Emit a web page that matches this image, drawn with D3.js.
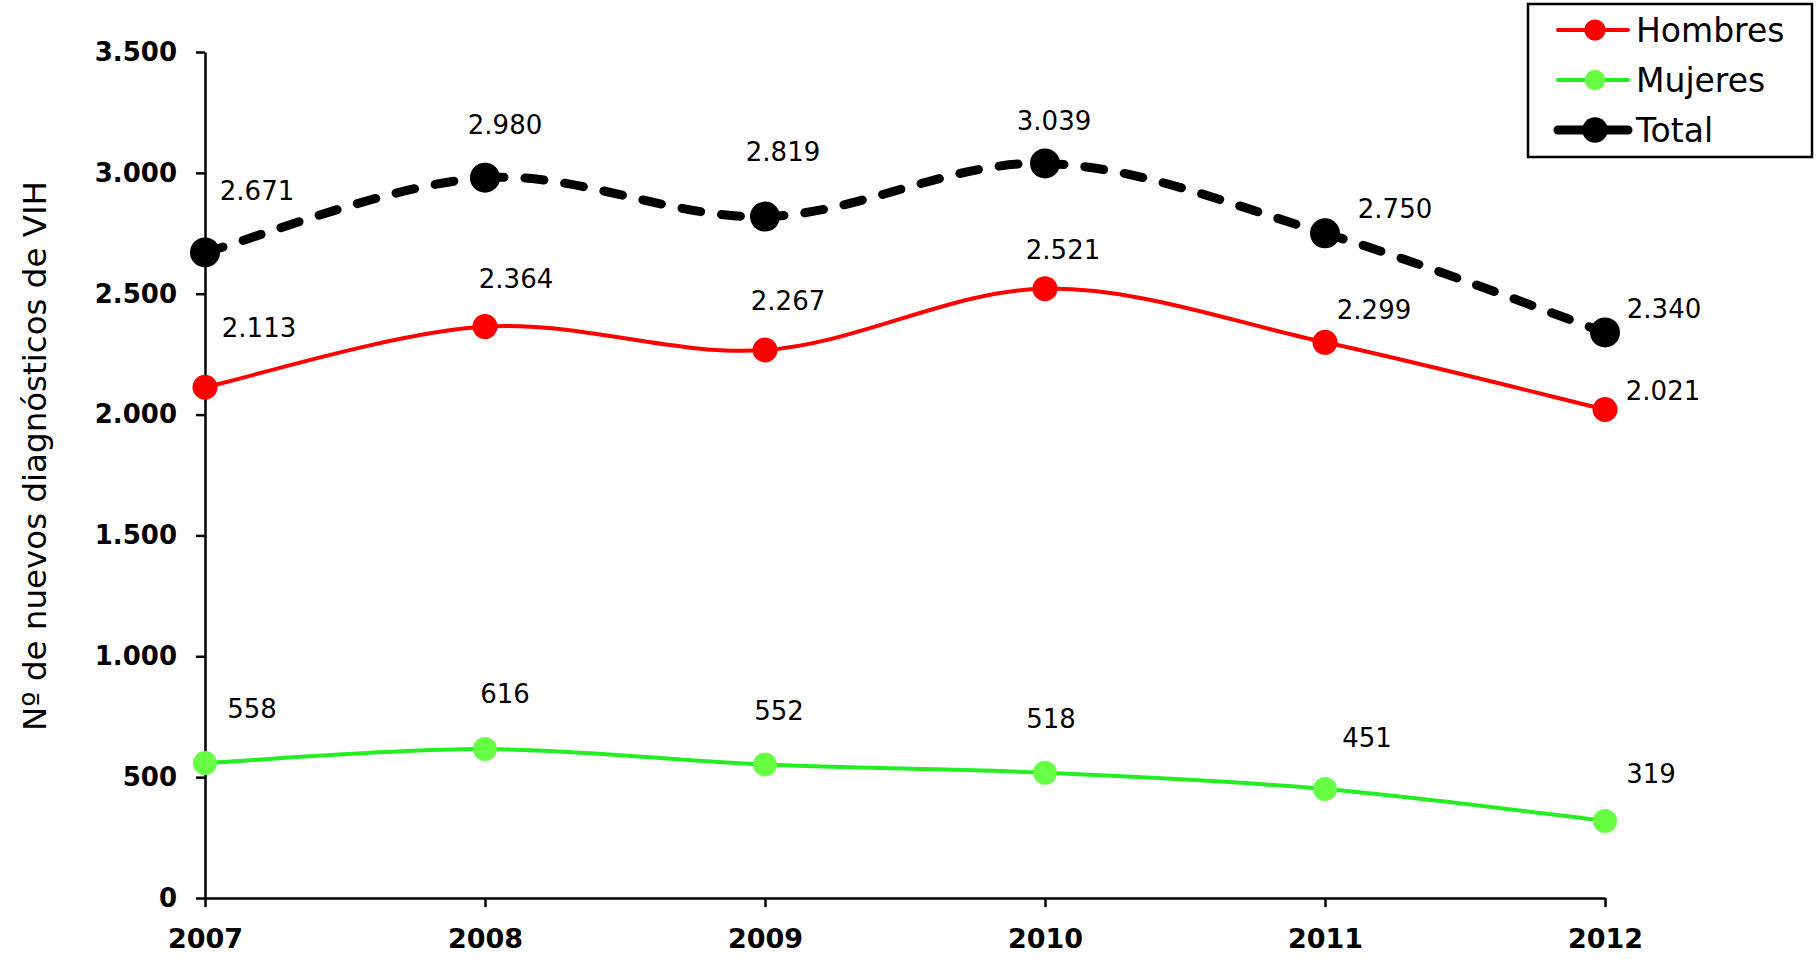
<!DOCTYPE html>
<html>
<head>
<meta charset="utf-8">
<script src="https://cdn.jsdelivr.net/npm/d3@7"></script>
<style>
  html, body { margin: 0; padding: 0; background: #fff; }
  svg { display: block; font-family: "DejaVu Sans", Verdana, sans-serif; }
</style>
</head>
<body>
<svg id="chart" width="1816" height="959"></svg>
<script>
// data
var years = ["2007", "2008", "2009", "2010", "2011", "2012"];
var hombres = [2113, 2364, 2267, 2521, 2299, 2021];
var mujeres = [558, 616, 552, 518, 451, 319];
var total = [2671, 2980, 2819, 3039, 2750, 2340];
var yTicks = [0, 500, 1000, 1500, 2000, 2500, 3000, 3500];
var seriesNames = ["Hombres", "Mujeres", "Total"];

// label nudges (layout only), label centre relative to the point
var nudgeHombres = [[54, -60], [31, -48], [23, -49], [18, -39], [49, -33], [58, -19]];
var nudgeMujeres = [[47, -54], [20, -55], [14, -54], [6, -54], [42, -51], [46, -47]];
var nudgeTotal = [[52, -62], [20, -53], [18, -65], [9, -43], [70, -25], [59, -24]];

var es = d3.formatLocale({decimal: ",", thousands: ".", grouping: [3], currency: ["", " €"]});
var fmt = es.format(",d");

var svg = d3.select("#chart");
var x = d3.scalePoint().domain(years).range([205, 1605]);
var y = d3.scaleLinear().domain([0, 3500]).range([898, 52]);

// axes
var gy = svg.append("g").attr("transform", "translate(205,0)")
    .call(d3.axisLeft(y).tickValues(yTicks).tickSize(9).tickSizeOuter(0).tickPadding(19).tickFormat(fmt));
gy.selectAll("text").attr("font-size", 26).attr("font-weight", "bold").attr("fill", "#000")
    .attr("font-family", "DejaVu Sans");
gy.selectAll("line, path").attr("stroke", "#000").attr("stroke-width", 2.5);

var gx = svg.append("g").attr("transform", "translate(0,898)")
    .call(d3.axisBottom(x).tickSize(9).tickSizeOuter(0));
gx.selectAll("text").attr("font-size", 27).attr("font-weight", "bold").attr("fill", "#000")
    .attr("font-family", "DejaVu Sans").attr("y", 50).attr("dy", 0);
gx.selectAll("line, path").attr("stroke", "#000").attr("stroke-width", 2.5);

// y title
svg.append("text")
    .attr("transform", "translate(46,456) rotate(-90)")
    .attr("text-anchor", "middle")
    .attr("font-size", 32.5)
    .attr("fill", "#000")
    .text("Nº de nuevos diagnósticos de VIH");

// smoothed segment i of a series (Catmull-Rom, like the spreadsheet smoothing)
function segment(vals, i) {
  var p = vals.map(function(v, k) { return [x(years[k]), y(v)]; });
  var p0 = p[Math.max(i - 1, 0)], p1 = p[i], p2 = p[i + 1], p3 = p[Math.min(i + 2, p.length - 1)];
  var path = d3.path();
  path.moveTo(p1[0], p1[1]);
  path.bezierCurveTo(
      p1[0] + (p2[0] - p0[0]) / 6, p1[1] + (p2[1] - p0[1]) / 6,
      p2[0] - (p3[0] - p1[0]) / 6, p2[1] - (p3[1] - p1[1]) / 6,
      p2[0], p2[1]);
  return path.toString();
}

var series = [
  {name: "Hombres", values: hombres, nudge: nudgeHombres, stroke: "#ff0000", marker: "#ff0000", width: 4, r: 12.5, dash: null},
  {name: "Mujeres", values: mujeres, nudge: nudgeMujeres, stroke: "#22ee22", marker: "#66ff44", width: 4, r: 12, dash: null},
  {name: "Total", values: total, nudge: nudgeTotal, stroke: "#000000", marker: "#000000", width: 9, r: 15, dash: "19,21"}
];

series.forEach(function(s) {
  svg.append("g").selectAll("path")
      .data(d3.range(s.values.length - 1))
      .join("path")
      .attr("d", function(i) { return segment(s.values, i); })
      .attr("fill", "none")
      .attr("stroke", s.stroke)
      .attr("stroke-width", s.width)
      .attr("stroke-linecap", s.dash ? "round" : "round")
      .attr("stroke-dasharray", s.dash);

  svg.append("g").selectAll("circle")
      .data(s.values)
      .join("circle")
      .attr("cx", function(d, i) { return x(years[i]); })
      .attr("cy", function(d) { return y(d); })
      .attr("r", s.r)
      .attr("fill", s.marker);

  svg.append("g").selectAll("text")
      .data(s.values)
      .join("text")
      .attr("x", function(d, i) { return x(years[i]) + s.nudge[i][0]; })
      .attr("y", function(d, i) { return y(d) + s.nudge[i][1]; })
      .attr("dy", "0.36em")
      .attr("text-anchor", "middle")
      .attr("font-size", 26)
      .attr("fill", "#000")
      .text(function(d) { return fmt(d); });
});

// legend
var lg = svg.append("g");
lg.append("rect")
    .attr("x", 1528).attr("y", 4).attr("width", 284).attr("height", 153)
    .attr("fill", "#fff").attr("stroke", "#000").attr("stroke-width", 2.5);

series.forEach(function(s, i) {
  var cy = 30 + i * 50;
  lg.append("line")
      .attr("x1", 1558).attr("x2", 1628).attr("y1", cy).attr("y2", cy)
      .attr("stroke", s.stroke).attr("stroke-width", s.width)
      .attr("stroke-linecap", "round");
  lg.append("circle")
      .attr("cx", 1595).attr("cy", cy).attr("r", s.r * 0.85).attr("fill", s.marker);
  lg.append("text")
      .attr("x", 1636).attr("y", cy).attr("dy", "0.36em")
      .attr("font-size", 33).attr("fill", "#000")
      .text(seriesNames[i]);
});
</script>
</body>
</html>
